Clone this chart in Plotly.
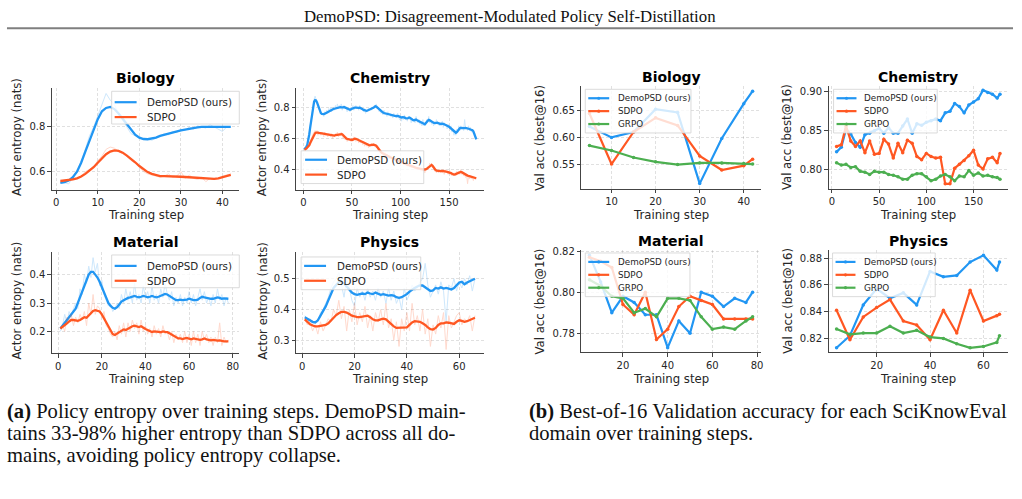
import plotly.graph_objects as go

# ---------------- data ----------------
# (a) Policy entropy (raw values and smoothed curves)
bio_demo_raw = [0.55,0.55,0.545,0.57,0.6,0.64,0.7,0.76,0.8,0.85,0.9,0.95,0.92,0.9,0.86,0.83,0.8,0.77,0.76,0.75,
                0.745,0.745,0.74,0.75,0.76,0.77,0.765,0.78,0.775,0.79,0.785,0.8,0.79,0.805,0.8,0.795,0.81,0.8,0.79,0.78,0.8,0.8]
bio_demo_smooth = [0.55,0.553,0.56,0.575,0.6,0.64,0.69,0.74,0.79,0.835,0.87,0.885,0.89,0.88,0.86,0.835,0.81,0.785,0.765,0.752,
                   0.746,0.745,0.747,0.752,0.76,0.765,0.772,0.776,0.78,0.785,0.788,0.792,0.795,0.798,0.8,0.8,0.8,0.8,0.8,0.8,0.8,0.8]
bio_sdpo_raw = [0.555,0.56,0.56,0.565,0.57,0.58,0.6,0.61,0.62,0.65,0.67,0.7,0.71,0.705,0.69,0.68,0.67,0.65,0.64,0.62,
                0.6,0.59,0.585,0.58,0.575,0.58,0.59,0.575,0.58,0.6,0.57,0.585,0.57,0.565,0.575,0.555,0.57,0.565,0.57,0.58,0.585,0.59]
bio_sdpo_smooth = [0.558,0.56,0.562,0.565,0.57,0.578,0.59,0.605,0.62,0.64,0.66,0.678,0.69,0.695,0.693,0.685,0.672,0.658,0.642,0.625,
                   0.61,0.598,0.59,0.584,0.58,0.58,0.58,0.579,0.578,0.577,0.576,0.575,0.572,0.57,0.569,0.57,0.57,0.568,0.57,0.575,0.58,0.585]

chem_demo_raw = [0.53,0.54,0.55,0.555,0.6,0.62,0.68,0.73,0.78,0.82,
                 0.85,0.87,0.85,0.83,0.8,0.78,0.77,0.76,0.75,0.76,
                 0.74,0.77,0.76,0.78,0.76,0.79,0.77,0.8,0.77,0.79,
                 0.8,0.78,0.81,0.79,0.82,0.79,0.81,0.8,0.82,0.78,
                 0.81,0.8,0.79,0.8,0.77,0.79,0.78,0.77,0.8,0.79,
                 0.81,0.78,0.8,0.81,0.79,0.8,0.78,0.81,0.79,0.8,
                 0.78,0.77,0.79,0.76,0.78,0.77,0.79,0.78,0.79,0.78,
                 0.8,0.79,0.81,0.8,0.82,0.79,0.8,0.77,0.78,0.76,
                 0.77,0.75,0.78,0.75,0.76,0.74,0.77,0.75,0.76,0.74,
                 0.75,0.73,0.76,0.74,0.75,0.73,0.76,0.74,0.72,0.75,
                 0.71,0.74,0.72,0.75,0.72,0.73,0.71,0.74,0.72,0.73,
                 0.7,0.73,0.71,0.72,0.7,0.74,0.71,0.7,0.72,0.69,
                 0.71,0.68,0.72,0.68,0.7,0.69,0.72,0.7,0.74,0.7,
                 0.72,0.69,0.71,0.68,0.71,0.69,0.72,0.69,0.7,0.68,
                 0.7,0.68,0.71,0.67,0.7,0.68,0.69,0.66,0.69,0.67,
                 0.66,0.68,0.64,0.66,0.62,0.65,0.62,0.66,0.64,0.68,
                 0.65,0.68,0.66,0.67,0.65,0.72,0.66,0.67,0.65,0.68,
                 0.65,0.67,0.64,0.66,0.63,0.64,0.61,0.6]
chem_demo_smooth = [0.53,0.535,0.545,0.56,0.585,0.625,0.67,0.72,0.77,0.81,
                    0.835,0.845,0.843,0.83,0.81,0.79,0.772,0.762,0.756,0.755,
                    0.755,0.758,0.762,0.766,0.77,0.772,0.775,0.778,0.782,0.785,
                    0.788,0.79,0.793,0.795,0.797,0.798,0.8,0.8,0.798,0.797,
                    0.798,0.8,0.797,0.793,0.788,0.784,0.782,0.783,0.786,0.79,
                    0.793,0.795,0.797,0.797,0.795,0.793,0.795,0.796,0.794,0.79,
                    0.786,0.782,0.779,0.777,0.776,0.778,0.78,0.782,0.784,0.787,
                    0.79,0.795,0.8,0.805,0.803,0.797,0.79,0.783,0.777,0.772,
                    0.768,0.765,0.762,0.76,0.758,0.757,0.755,0.752,0.75,0.748,
                    0.747,0.748,0.746,0.744,0.742,0.743,0.745,0.742,0.738,0.735,
                    0.733,0.735,0.737,0.734,0.73,0.727,0.728,0.73,0.733,0.73,
                    0.725,0.72,0.717,0.716,0.718,0.72,0.716,0.712,0.708,0.705,
                    0.703,0.7,0.697,0.693,0.69,0.695,0.705,0.712,0.718,0.715,
                    0.71,0.705,0.702,0.7,0.698,0.7,0.702,0.7,0.697,0.693,
                    0.692,0.694,0.695,0.692,0.69,0.688,0.685,0.682,0.678,0.674,
                    0.668,0.662,0.655,0.648,0.642,0.638,0.636,0.64,0.65,0.66,
                    0.665,0.667,0.666,0.664,0.663,0.665,0.667,0.666,0.665,0.663,
                    0.66,0.657,0.655,0.652,0.645,0.63,0.61,0.593]
chem_sdpo_raw = [0.53,0.52,0.54,0.53,0.55,0.56,0.58,0.6,0.61,0.63,
                 0.64,0.65,0.63,0.65,0.62,0.64,0.63,0.62,0.64,0.63,
                 0.61,0.64,0.62,0.63,0.61,0.63,0.62,0.61,0.63,0.6,
                 0.62,0.61,0.63,0.62,0.64,0.61,0.63,0.62,0.64,0.62,
                 0.6,0.62,0.59,0.61,0.58,0.6,0.59,0.6,0.58,0.6,
                 0.59,0.61,0.6,0.58,0.6,0.59,0.57,0.59,0.57,0.58,
                 0.56,0.58,0.55,0.57,0.55,0.57,0.54,0.56,0.55,0.57,
                 0.55,0.57,0.55,0.56,0.54,0.55,0.52,0.53,0.51,0.52,
                 0.5,0.51,0.49,0.51,0.48,0.5,0.48,0.49,0.47,0.49,
                 0.47,0.48,0.46,0.48,0.45,0.47,0.45,0.46,0.44,0.46,
                 0.44,0.45,0.43,0.45,0.43,0.44,0.42,0.44,0.42,0.43,
                 0.41,0.43,0.41,0.42,0.4,0.42,0.4,0.42,0.4,0.41,
                 0.39,0.41,0.39,0.41,0.38,0.41,0.4,0.42,0.41,0.44,
                 0.42,0.44,0.41,0.42,0.39,0.4,0.38,0.4,0.38,0.4,
                 0.38,0.4,0.38,0.4,0.37,0.4,0.38,0.39,0.37,0.39,
                 0.37,0.38,0.36,0.38,0.36,0.38,0.36,0.39,0.37,0.39,
                 0.37,0.4,0.37,0.38,0.36,0.37,0.35,0.37,0.31,0.36,
                 0.34,0.36,0.34,0.35,0.33,0.35,0.34,0.34]
chem_sdpo_smooth = [0.53,0.53,0.535,0.54,0.545,0.555,0.57,0.585,0.6,0.615,
                    0.625,0.633,0.637,0.638,0.637,0.635,0.633,0.632,0.631,0.63,
                    0.629,0.628,0.627,0.626,0.625,0.624,0.623,0.622,0.62,0.618,
                    0.617,0.618,0.62,0.622,0.624,0.625,0.625,0.626,0.627,0.626,
                    0.62,0.612,0.605,0.6,0.597,0.595,0.593,0.592,0.59,0.589,
                    0.592,0.596,0.598,0.597,0.594,0.59,0.585,0.58,0.577,0.575,
                    0.572,0.568,0.565,0.562,0.56,0.557,0.555,0.555,0.556,0.558,
                    0.56,0.56,0.558,0.556,0.553,0.545,0.535,0.525,0.518,0.512,
                    0.507,0.503,0.5,0.497,0.494,0.49,0.487,0.484,0.481,0.478,
                    0.475,0.472,0.469,0.466,0.463,0.46,0.457,0.455,0.452,0.45,
                    0.447,0.445,0.442,0.44,0.437,0.435,0.432,0.43,0.427,0.425,
                    0.422,0.42,0.418,0.416,0.414,0.412,0.41,0.408,0.406,0.405,
                    0.404,0.403,0.402,0.401,0.4,0.402,0.405,0.41,0.417,0.423,
                    0.428,0.43,0.425,0.415,0.405,0.398,0.394,0.393,0.392,0.39,
                    0.39,0.391,0.392,0.392,0.391,0.39,0.388,0.386,0.385,0.384,
                    0.382,0.378,0.373,0.37,0.368,0.37,0.373,0.377,0.38,0.382,
                    0.384,0.385,0.384,0.38,0.375,0.37,0.367,0.365,0.362,0.36,
                    0.358,0.356,0.354,0.352,0.35,0.348,0.347,0.345]

mat_demo_raw = [0.2,0.22,0.26,0.23,0.27,0.25,0.28,0.3,0.28,0.35,
                0.33,0.4,0.37,0.43,0.39,0.46,0.41,0.44,0.36,0.38,
                0.33,0.31,0.29,0.3,0.27,0.28,0.3,0.28,0.33,0.3,
                0.35,0.31,0.34,0.3,0.37,0.31,0.33,0.3,0.36,0.32,
                0.34,0.3,0.36,0.31,0.33,0.3,0.35,0.32,0.37,0.33,
                0.31,0.34,0.29,0.32,0.3,0.33,0.29,0.32,0.3,0.34,
                0.3,0.33,0.29,0.32,0.35,0.31,0.34,0.3,0.32,0.29,
                0.33,0.3,0.35,0.31,0.33,0.29,0.32,0.3]
mat_demo_smooth = [0.21,0.22,0.23,0.24,0.25,0.26,0.27,0.28,0.3,0.32,
                   0.345,0.365,0.385,0.4,0.41,0.41,0.4,0.39,0.375,0.355,
                   0.335,0.315,0.3,0.29,0.283,0.28,0.285,0.295,0.305,0.31,
                   0.315,0.318,0.32,0.322,0.325,0.322,0.32,0.322,0.325,0.323,
                   0.32,0.322,0.325,0.322,0.32,0.322,0.326,0.33,0.332,0.33,
                   0.325,0.318,0.312,0.31,0.31,0.312,0.31,0.31,0.312,0.315,
                   0.312,0.31,0.31,0.312,0.318,0.322,0.32,0.318,0.317,0.315,
                   0.315,0.318,0.32,0.318,0.315,0.316,0.315,0.315]
mat_sdpo_raw = [0.21,0.22,0.2,0.25,0.24,0.26,0.22,0.25,0.23,0.26,
                0.24,0.27,0.22,0.3,0.26,0.33,0.26,0.29,0.28,0.25,
                0.27,0.22,0.21,0.19,0.18,0.2,0.17,0.22,0.19,0.23,
                0.18,0.23,0.2,0.24,0.21,0.23,0.19,0.24,0.2,0.22,
                0.19,0.21,0.18,0.22,0.19,0.21,0.18,0.22,0.19,0.2,
                0.17,0.2,0.16,0.19,0.17,0.19,0.16,0.2,0.16,0.19,
                0.15,0.2,0.16,0.19,0.15,0.2,0.17,0.19,0.16,0.18,
                0.15,0.18,0.16,0.23,0.15,0.18,0.16,0.17]
mat_sdpo_smooth = [0.21,0.215,0.22,0.228,0.235,0.24,0.24,0.238,0.237,0.24,
                   0.245,0.25,0.248,0.255,0.265,0.272,0.275,0.273,0.27,0.26,
                   0.245,0.23,0.215,0.2,0.19,0.187,0.192,0.2,0.205,0.207,
                   0.205,0.21,0.215,0.218,0.22,0.217,0.215,0.218,0.212,0.208,
                   0.205,0.2,0.198,0.2,0.2,0.198,0.197,0.2,0.198,0.197,
                   0.193,0.188,0.182,0.178,0.175,0.175,0.173,0.175,0.177,0.174,
                   0.172,0.175,0.174,0.172,0.17,0.172,0.175,0.172,0.17,0.168,
                   0.17,0.168,0.167,0.168,0.166,0.165,0.165,0.165]

phys_demo_raw = [0.38,0.36,0.37,0.35,0.36,0.36,0.39,0.4,0.42,0.44,
                 0.47,0.49,0.5,0.52,0.48,0.44,0.5,0.47,0.43,0.41,
                 0.47,0.44,0.46,0.43,0.47,0.44,0.46,0.43,0.47,0.44,
                 0.46,0.42,0.47,0.43,0.46,0.42,0.44,0.4,0.47,0.43,
                 0.45,0.48,0.46,0.47,0.49,0.5,0.55,0.48,0.44,0.46,
                 0.48,0.45,0.49,0.46,0.36,0.48,0.47,0.5,0.46,0.49,
                 0.47,0.5,0.48,0.51,0.46,0.5]
phys_demo_smooth = [0.375,0.37,0.365,0.36,0.358,0.365,0.38,0.395,0.41,0.43,
                    0.45,0.47,0.48,0.49,0.49,0.485,0.475,0.465,0.455,0.45,
                    0.448,0.45,0.452,0.45,0.455,0.452,0.45,0.455,0.452,0.448,
                    0.45,0.448,0.445,0.447,0.445,0.44,0.438,0.44,0.445,0.45,
                    0.458,0.465,0.47,0.475,0.478,0.478,0.472,0.465,0.46,0.462,
                    0.47,0.468,0.472,0.468,0.47,0.468,0.465,0.47,0.478,0.488,
                    0.49,0.482,0.488,0.492,0.497,0.5]
phys_sdpo_raw = [0.37,0.35,0.36,0.33,0.35,0.32,0.36,0.33,0.35,0.37,
                 0.36,0.4,0.38,0.43,0.37,0.41,0.33,0.4,0.36,0.42,
                 0.35,0.39,0.36,0.41,0.34,0.38,0.33,0.39,0.36,0.4,
                 0.35,0.42,0.34,0.37,0.3,0.36,0.28,0.37,0.33,0.39,
                 0.33,0.42,0.35,0.38,0.33,0.4,0.32,0.37,0.28,0.35,
                 0.32,0.38,0.34,0.39,0.27,0.38,0.34,0.36,0.38,0.39,
                 0.35,0.37,0.36,0.38,0.33,0.38]
phys_sdpo_smooth = [0.368,0.36,0.352,0.348,0.345,0.345,0.347,0.348,0.35,0.355,
                    0.365,0.375,0.382,0.388,0.392,0.392,0.39,0.385,0.38,0.378,
                    0.375,0.375,0.377,0.378,0.38,0.375,0.368,0.365,0.365,0.368,
                    0.37,0.368,0.36,0.352,0.345,0.34,0.34,0.342,0.34,0.342,
                    0.35,0.358,0.362,0.362,0.36,0.355,0.35,0.342,0.336,0.335,
                    0.34,0.35,0.355,0.355,0.358,0.357,0.355,0.353,0.36,0.365,
                    0.363,0.36,0.362,0.366,0.37,0.373]

# (b) Best-of-16 validation accuracy
bio_val_steps = [5, 10, 15, 20, 25, 30, 35, 40, 42]
bio_val_demo = [0.62, 0.600, 0.610, 0.652, 0.646, 0.515, 0.598, 0.662, 0.685]
bio_val_sdpo = [0.644, 0.551, 0.610, 0.636, 0.622, 0.566, 0.540, 0.548, 0.560]
bio_val_grpo = [0.585, 0.576, 0.563, 0.555, 0.550, 0.553, 0.553, 0.552, 0.551]

chem_val_steps = [5, 10, 15, 20, 25, 30, 35, 40, 45, 50, 55, 60, 65, 70, 75, 80, 85, 90,
                  95, 100, 105, 110, 115, 120, 125, 130, 135, 140, 145, 150, 155, 160, 165, 170, 175, 178]
chem_val_demo = [0.822, 0.828, 0.851, 0.845, 0.834, 0.828, 0.844, 0.846, 0.849, 0.852, 0.846, 0.853,
                 0.846, 0.846, 0.855, 0.864, 0.846, 0.858, 0.856, 0.860, 0.862, 0.864, 0.862, 0.872,
                 0.874, 0.884, 0.880, 0.872, 0.882, 0.886, 0.890, 0.901, 0.898, 0.896, 0.891, 0.896]
chem_val_sdpo = [0.829, 0.831, 0.855, 0.836, 0.829, 0.836, 0.821, 0.836, 0.819, 0.820, 0.838, 0.832,
                 0.814, 0.833, 0.821, 0.837, 0.833, 0.816, 0.812, 0.820, 0.816, 0.814, 0.815, 0.781,
                 0.781, 0.801, 0.806, 0.811, 0.817, 0.824, 0.805, 0.800, 0.813, 0.815, 0.808, 0.820]
chem_val_grpo = [0.808, 0.805, 0.806, 0.802, 0.803, 0.797, 0.796, 0.793, 0.797, 0.796, 0.796, 0.793,
                 0.792, 0.790, 0.787, 0.787, 0.792, 0.794, 0.794, 0.790, 0.785, 0.787, 0.791, 0.793,
                 0.790, 0.785, 0.791, 0.790, 0.798, 0.792, 0.795, 0.791, 0.792, 0.790, 0.789, 0.787]

mat_val_steps = [5, 10, 15, 20, 25, 30, 35, 40, 45, 50, 55, 60, 65, 70, 75, 78]
mat_val_demo = [0.818, 0.805, 0.790, 0.798, 0.795, 0.789, 0.789, 0.773, 0.786, 0.780, 0.800, 0.798, 0.793, 0.797, 0.795, 0.800]
mat_val_sdpo = [0.817, 0.815, 0.812, 0.794, 0.789, 0.800, 0.777, 0.782, 0.793, 0.798, 0.796, 0.794, 0.787, 0.787, 0.787, 0.787]
mat_val_grpo = [0.806, 0.803, 0.798, 0.797, 0.790, 0.792, 0.788, 0.797, 0.797, 0.796, 0.788, 0.782, 0.783, 0.782, 0.786, 0.788]

phys_val_steps = [5, 10, 15, 20, 25, 30, 35, 40, 45, 50, 55, 60, 65, 66]
phys_val_demo = [0.813, 0.822, 0.845, 0.857, 0.850, 0.854, 0.845, 0.870, 0.866, 0.867, 0.877, 0.882, 0.871, 0.877]
phys_val_sdpo = [0.841, 0.819, 0.836, 0.843, 0.849, 0.833, 0.830, 0.819, 0.841, 0.824, 0.856, 0.833, 0.837, 0.838]
phys_val_grpo = [0.827, 0.823, 0.824, 0.824, 0.829, 0.824, 0.826, 0.821, 0.820, 0.816, 0.813, 0.814, 0.817, 0.822]

domains = ["Biology", "Chemistry", "Material", "Physics"]
method_names = ["DemoPSD (ours)", "SDPO", "GRPO"]

# tick values / labels
ent_xticks = [[0, 10, 20, 30, 40], [0, 50, 100, 150], [0, 20, 40, 60, 80], [0, 20, 40, 60]]
ent_yticks = [[0.6, 0.8], [0.4, 0.6, 0.8], [0.2, 0.3, 0.4], [0.3, 0.4, 0.5]]
val_xticks = [[10, 20, 30, 40], [0, 50, 100, 150], [20, 40, 60, 80], [20, 40, 60]]
val_yticks = [[0.55, 0.60, 0.65], [0.80, 0.85, 0.90], [0.78, 0.80, 0.82], [0.82, 0.84, 0.86, 0.88]]

header_text = "DemoPSD: Disagreement-Modulated Policy Self-Distillation"
caption_a = ["<b>(a)</b> Policy entropy over training steps. DemoPSD main-",
             "tains 33-98% higher entropy than SDPO across all do-",
             "mains, avoiding policy entropy collapse."]
caption_b = ["<b>(b)</b> Best-of-16 Validation accuracy for each SciKnowEval",
             "domain over training steps."]

# ---------------- layout helpers ----------------
W, H = 1022, 499
FONT = "DejaVu Sans"
SERIF = "Liberation Serif"
BLUE, RED, GREEN = "#2196F3", "#FF5722", "#4CAF50"
TXT = "#262626"


def px(x):
    return x / W


def py(y):
    return 1 - y / H


ent_series = [
    (bio_demo_raw, bio_demo_smooth, bio_sdpo_raw, bio_sdpo_smooth),
    (chem_demo_raw, chem_demo_smooth, chem_sdpo_raw, chem_sdpo_smooth),
    (mat_demo_raw, mat_demo_smooth, mat_sdpo_raw, mat_sdpo_smooth),
    (phys_demo_raw, phys_demo_smooth, phys_sdpo_raw, phys_sdpo_smooth),
]
val_series = [
    (bio_val_steps, bio_val_demo, bio_val_sdpo, bio_val_grpo),
    (chem_val_steps, chem_val_demo, chem_val_sdpo, chem_val_grpo),
    (mat_val_steps, mat_val_demo, mat_val_sdpo, mat_val_grpo),
    (phys_val_steps, phys_val_demo, phys_val_sdpo, phys_val_grpo),
]

# axes boxes in pixels: (left, top, right, bottom)
ent_boxes = [(52, 85, 240, 187), (297, 85, 485, 187), (52, 250, 240, 352), (297, 250, 485, 352)]
val_boxes = [(583, 83, 763, 186), (831, 83, 1011, 186), (583, 248, 763, 351), (831, 248, 1011, 351)]
ent_xr = [(-1.05, 44.05), (-7.5, 185.5), (-2.9, 83.0), (-2.3, 69.3)]
ent_yr = [(0.52, 0.973), (0.273, 0.92), (0.123, 0.48), (0.258, 0.587)]
val_xr = [(3.15, 43.85), (-3.5, 186.5), (1.35, 81.65), (2.0, 69.2)]
val_yr = [(0.506, 0.694), (0.775, 0.906), (0.7708, 0.8205), (0.8097, 0.886)]
ent_ytitle_x = [17, 263, 17, 263]
val_ytitle_x = [542, 790, 542, 790]

# legends: box (l,t,r,b), row ys, line x0,x1, text x
ent_leg = [
    ((112, 88, 240, 121), [99, 114], (115, 137), 145),
    ((302, 148, 425, 181), [157, 172], (306, 328), 336),
    ((112, 253, 240, 286), [264, 279], (115, 137), 145),
    ((302, 255, 422, 288), [264, 279], (305, 327), 336),
]
val_leg = [
    ((587, 86, 693, 130), [95, 108, 121], (590, 611), 618),
    ((836, 86, 940, 130), [95, 108, 121], (839, 859), 865),
    ((587, 251, 692, 295), [260, 273, 286], (590, 611), 618),
    ((835, 251, 938, 295), [260, 273, 286], (838, 858), 865),
]

fig = go.Figure()
layout = {}
shapes = []
annotations = []


def axis_style(domain, rng, tickvals, anchor, fmt=None):
    d = dict(domain=domain, range=list(rng), tickvals=tickvals, anchor=anchor,
             showline=True, linecolor="#444", linewidth=1, ticks="outside", ticklen=3.5,
             tickwidth=0.8, tickcolor="#444", showgrid=True, gridcolor="rgba(0,0,0,0.12)",
             griddash="3px,2px", gridwidth=0.8, zeroline=False,
             tickfont=dict(family=FONT, size=10, color=TXT), fixedrange=True)
    if fmt:
        d["tickformat"] = fmt
    return d


def add_legend(box, rows, lx, tx, names, colors, fsize, markers):
    l, t, r, b = box
    shapes.append(dict(type="rect", xref="paper", yref="paper", x0=px(l), x1=px(r), y0=py(b), y1=py(t),
                       fillcolor="rgba(255,255,255,0.8)", line=dict(color="rgba(210,210,210,0.8)", width=1),
                       layer="above"))
    for ry, nm, c in zip(rows, names, colors):
        shapes.append(dict(type="line", xref="paper", yref="paper", x0=px(lx[0]), x1=px(lx[1]),
                           y0=py(ry), y1=py(ry), line=dict(color=c, width=2.2), layer="above"))
        if markers:
            cx = (lx[0] + lx[1]) / 2
            shapes.append(dict(type="circle", xref="paper", yref="paper", x0=px(cx - 1.6), x1=px(cx + 1.6),
                               y0=py(ry + 1.6), y1=py(ry - 1.6), fillcolor=c, line=dict(color=c, width=0),
                               layer="above"))
        annotations.append(dict(text=nm, xref="paper", yref="paper", x=px(tx), y=py(ry), xanchor="left",
                                yanchor="middle", showarrow=False, font=dict(family=FONT, size=fsize, color=TXT)))


n = 0
for i in range(4):
    n += 1
    sfx = "" if n == 1 else str(n)
    l, t, r, b = ent_boxes[i]
    demo_raw, demo_s, sdpo_raw, sdpo_s = ent_series[i]
    steps_d = list(range(1, len(demo_raw) + 1))
    steps_s = list(range(1, len(sdpo_raw) + 1))
    for xs, ys, c, w, op in [(steps_d, demo_raw, BLUE, 1.0, 0.22), (steps_d, demo_s, BLUE, 2.3, 1.0),
                             (steps_s, sdpo_raw, RED, 1.0, 0.22), (steps_s, sdpo_s, RED, 2.3, 1.0)]:
        fig.add_trace(go.Scatter(x=xs, y=ys, mode="lines", line=dict(color=c, width=w), opacity=op,
                                 xaxis="x" + sfx, yaxis="y" + sfx, showlegend=False, hoverinfo="skip"))
    layout["xaxis" + sfx] = axis_style([px(l), px(r)], ent_xr[i], ent_xticks[i], "y" + sfx)
    layout["yaxis" + sfx] = axis_style([py(b), py(t)], ent_yr[i], ent_yticks[i], "x" + sfx, ".1f")
    cx = (l + r) / 2
    annotations.append(dict(text="<b>%s</b>" % domains[i], xref="paper", yref="paper", x=px(cx), y=py(t - 10),
                            xanchor="center", yanchor="middle", showarrow=False,
                            font=dict(family=FONT, size=14, color="#000")))
    annotations.append(dict(text="Training step", xref="paper", yref="paper", x=px(cx), y=py(b + 26),
                            xanchor="center", yanchor="middle", showarrow=False,
                            font=dict(family=FONT, size=11.7, color=TXT)))
    annotations.append(dict(text="Actor entropy (nats)", xref="paper", yref="paper", x=px(ent_ytitle_x[i]),
                            y=py((t + b) / 2 - 2), xanchor="center", yanchor="middle", textangle=-90,
                            showarrow=False, font=dict(family=FONT, size=11.7, color=TXT)))
    box, rows, lx, tx = ent_leg[i]
    add_legend(box, rows, lx, tx, method_names[:2], [BLUE, RED], 10.3, False)

for i in range(4):
    n += 1
    sfx = str(n)
    l, t, r, b = val_boxes[i]
    steps, demo, sdpo, grpo = val_series[i]
    for ys, c in [(demo, BLUE), (sdpo, RED), (grpo, GREEN)]:
        fig.add_trace(go.Scatter(x=steps, y=ys, mode="lines+markers", line=dict(color=c, width=2.2),
                                 marker=dict(color=c, size=3.5), xaxis="x" + sfx, yaxis="y" + sfx,
                                 showlegend=False, hoverinfo="skip"))
    layout["xaxis" + sfx] = axis_style([px(l), px(r)], val_xr[i], val_xticks[i], "y" + sfx)
    layout["yaxis" + sfx] = axis_style([py(b), py(t)], val_yr[i], val_yticks[i], "x" + sfx, ".2f")
    cx = (l + r) / 2
    annotations.append(dict(text="<b>%s</b>" % domains[i], xref="paper", yref="paper", x=px(cx), y=py(t - 9),
                            xanchor="center", yanchor="middle", showarrow=False,
                            font=dict(family=FONT, size=14, color="#000")))
    annotations.append(dict(text="Training step", xref="paper", yref="paper", x=px(cx), y=py(b + 27),
                            xanchor="center", yanchor="middle", showarrow=False,
                            font=dict(family=FONT, size=11.7, color=TXT)))
    annotations.append(dict(text="Val acc (best@16)", xref="paper", yref="paper", x=px(val_ytitle_x[i]),
                            y=py((t + b) / 2), xanchor="center", yanchor="middle", textangle=-90,
                            showarrow=False, font=dict(family=FONT, size=11.7, color=TXT)))
    box, rows, lx, tx = val_leg[i]
    add_legend(box, rows, lx, tx, method_names, [BLUE, RED, GREEN], 8.8, True)

# header
annotations.append(dict(text=header_text, xref="paper", yref="paper", x=px(511), y=py(13), xanchor="center",
                        yanchor="middle", showarrow=False, font=dict(family=SERIF, size=16.8, color="#111")))
shapes.append(dict(type="line", xref="paper", yref="paper", x0=px(7), x1=px(1016), y0=py(24.5), y1=py(24.5),
                   line=dict(color="#7f7f7f", width=2)))

# captions
CAP = 20.6
for k, line in enumerate(caption_a):
    annotations.append(dict(text=line, xref="paper", yref="paper", x=px(5), y=py(411 + 22 * k), xanchor="left",
                            yanchor="middle", showarrow=False, font=dict(family=SERIF, size=CAP, color="#111")))
for k, line in enumerate(caption_b):
    annotations.append(dict(text=line, xref="paper", yref="paper", x=px(529), y=py(411 + 22 * k), xanchor="left",
                            yanchor="middle", showarrow=False, font=dict(family=SERIF, size=CAP, color="#111")))

fig.update_layout(width=W, height=H, margin=dict(l=0, r=0, t=0, b=0), paper_bgcolor="white",
                  plot_bgcolor="white", showlegend=False, shapes=shapes, annotations=annotations, **layout)

fig.write_html("out.html", config={"displayModeBar": False})
